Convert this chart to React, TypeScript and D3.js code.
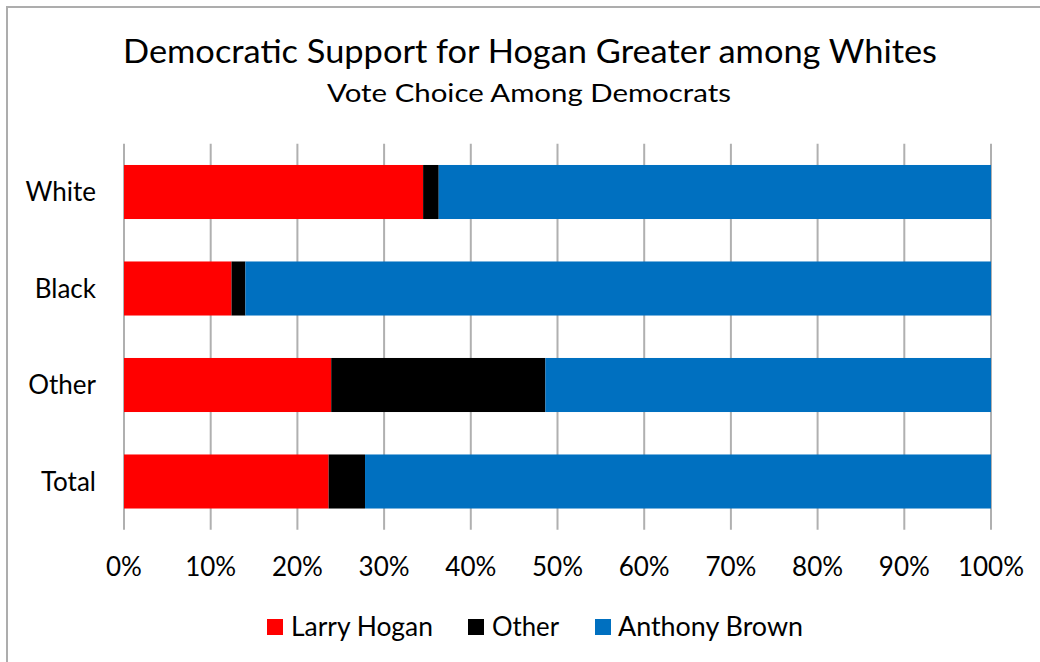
import React from "react";
import * as d3 from "d3";

const categories = ["White", "Black", "Other", "Total"];
const seriesNames = ["Larry Hogan", "Other", "Anthony Brown"];
const hogan = [34.5, 12.4, 23.9, 23.6];
const otherVals = [1.8, 1.6, 24.7, 4.2];
const brown = [63.7, 86.0, 51.4, 72.2];
const colors = ["#FF0000", "#000000", "#0070C0"];
const ticks = [0, 10, 20, 30, 40, 50, 60, 70, 80, 90, 100];
const title = "Democratic Support for Hogan Greater among Whites";
const subtitle = "Vote Choice Among Democrats";

const W = 1040;
const H = 662;
const FONT = "Lato, 'Open Sans', sans-serif";

export default function App() {
  const x = d3.scaleLinear().domain([0, 100]).range([124, 991]);
  const y = d3
    .scaleBand<string>()
    .domain(categories)
    .range([143.75, 529.75])
    .paddingInner(0.44)
    .paddingOuter(0.22);

  const rows = categories.map((c, i) => ({
    cat: c,
    Hogan: hogan[i],
    Other: otherVals[i],
    Brown: brown[i],
  }));
  const stack = d3.stack<any>().keys(["Hogan", "Other", "Brown"]);
  const series = stack(rows);

  const legendItems = [
    { sq: 267, tx: 291, w: 142 },
    { sq: 468, tx: 492, w: 67 },
    { sq: 595, tx: 618, w: 185 },
  ];

  return (
    <svg
      width={W}
      height={H}
      style={{ position: "absolute", left: 0, top: 0, background: "#fff" }}
      fontFamily={FONT}
    >
      <rect x={0} y={0} width={W} height={H} fill="#fff" />
      <rect x={7} y={7} width={W + 20} height={H + 20} fill="none" stroke="#adadad" strokeWidth={2} />

      <text x={530} y={63} textAnchor="middle" fontSize={32} fill="#000" textLength={814} lengthAdjust="spacingAndGlyphs">
        {title}
      </text>
      <text x={529} y={102} textAnchor="middle" fontSize={25} fill="#000" textLength={404} lengthAdjust="spacingAndGlyphs">
        {subtitle}
      </text>

      {ticks.map((t) => (
        <line key={"g" + t} x1={x(t)} x2={x(t)} y1={143.75} y2={529.75} stroke="#b0b0b0" strokeWidth={2} />
      ))}

      {series.map((s, si) =>
        s.map((d, i) => (
          <rect
            key={si + "-" + i}
            x={x(d[0])}
            y={y(categories[i])}
            width={x(d[1]) - x(d[0])}
            height={y.bandwidth()}
            fill={colors[si]}
          />
        ))
      )}

      {ticks.map((t) => (
        <text key={"t" + t} x={x(t)} y={576} textAnchor="middle" fontSize={26} fill="#000">
          {t + "%"}
        </text>
      ))}

      {categories.map((c) => (
        <text key={c} x={96} y={(y(c) as number) + y.bandwidth() / 2 + 9} textAnchor="end" fontSize={26} fill="#000">
          {c}
        </text>
      ))}

      {seriesNames.map((n, i) => (
        <g key={n}>
          <rect x={legendItems[i].sq} y={619} width={16} height={16} fill={colors[i]} />
          <text x={legendItems[i].tx} y={636} fontSize={26} fill="#000" textLength={legendItems[i].w} lengthAdjust="spacingAndGlyphs">
            {n}
          </text>
        </g>
      ))}
    </svg>
  );
}
